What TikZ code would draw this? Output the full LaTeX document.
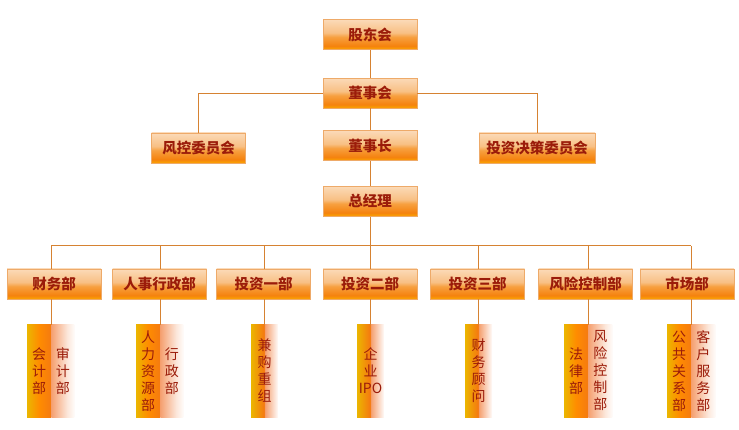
\documentclass[tikz,border=0pt]{standalone}
\usepackage{fontspec}
\setmainfont{Noto Sans CJK SC}
\usetikzlibrary{positioning}

\definecolor{textred}{RGB}{155,28,10}
\definecolor{linecol}{RGB}{214,130,50}
\definecolor{boxline}{RGB}{238,170,105}
\definecolor{boxbot}{RGB}{251,166,0}
\definecolor{boxorange}{RGB}{245,130,14}
\definecolor{boxmid}{RGB}{247,160,64}
\definecolor{boxtop}{RGB}{248,192,132}
\definecolor{boxtoptop}{RGB}{251,218,184}
\definecolor{stripyel}{RGB}{235,182,0}
\definecolor{stripora}{RGB}{245,122,16}
\definecolor{stripsal}{RGB}{245,160,112}
\definecolor{strippale}{RGB}{252,232,220}

% shadings: the part from 25bp to 75bp is what fills the node
\pgfdeclareverticalshading{boxshade}{100bp}{color(0bp)=(boxbot); color(25bp)=(boxbot);
  color(31bp)=(boxorange); color(46bp)=(boxmid); color(53bp)=(boxtop);
  color(75bp)=(boxtoptop); color(100bp)=(boxtoptop)}
\pgfdeclarehorizontalshading{leftshade}{100bp}{color(0bp)=(stripyel); color(25bp)=(stripyel);
  color(50bp)=(orange!90!yellow); color(75bp)=(stripora); color(100bp)=(stripora)}
\pgfdeclarehorizontalshading{rightshade}{100bp}{color(0bp)=(stripsal); color(25bp)=(stripsal);
  color(60bp)=(strippale); color(75bp)=(white!85!strippale); color(100bp)=(white)}
\pgfdeclarehorizontalshading{singleshade}{100bp}{color(0bp)=(stripyel); color(25bp)=(stripyel);
  color(49bp)=(stripora); color(51bp)=(stripsal); color(75bp)=(white!85!strippale); color(100bp)=(white)}

\tikzset{
  box/.style={draw=boxline, line width=0.6pt, shading=boxshade, minimum width=94pt,
    minimum height=30pt, inner sep=0pt, text=textred, font=\bfseries\fontsize{14.5}{14.5}\selectfont},
  strip/.style={minimum height=92pt, minimum width=24pt, inner sep=0pt, align=center,
    text=textred, font=\fontsize{14}{17}\selectfont},
  stripL/.style={strip, shading=leftshade},
  stripR/.style={strip, shading=rightshade},
  stripS/.style={strip, minimum width=27pt, shading=singleshade},
  link/.style={draw=linecol, line width=1pt}
}

\begin{document}
\begin{tikzpicture}[x=1pt, y=-1pt]
    \useasboundingbox (0,0) rectangle (739,430);
    % top of the chart
    \node[box] (gdh) at (370,34.5) {股东会};
    \node[box, below=28pt of gdh] (dsh) {董事会};
    \node[box, below=22pt of dsh] (dsz) {董事长};
    \node[box, below=25pt of dsz] (zjl) {总经理};
    \node[box] (fkw) at (198.5,148) {风控委员会};
    \node[box, minimum width=116pt] (tzw) at (537,148) {投资决策委员会};
    \draw[link] (gdh) -- (dsh);
    \draw[link] (dsh) -- (dsz);
    \draw[link] (dsz) -- (zjl);
    \draw[link] (dsh.west) -| (fkw.north);
    \draw[link] (dsh.east) -| (tzw.north);
    % departments
    \foreach \n/\x/\t in {cwb/54/财务部, rsb/159.5/人事行政部, tz1/263.5/投资一部,
        tz2/370/投资二部, tz3/477.5/投资三部, fxb/585.5/风险控制部, scb/687/市场部}
        \node[box] (\n) at (\x,284) {\t};
    % sub departments
    \node[stripL] (kj) at (39,371) {会\\计\\部};
    \node[stripR, right=0pt of kj, minimum width=23pt] (sj) {审\\计\\部};
    \node[stripL] (rl) at (148,371) {人\\力\\资\\源\\部};
    \node[stripR, right=0pt of rl, minimum width=23pt] (xz) {行\\政\\部};
    \node[stripS] (jg) at (264.5,371) {兼\\购\\重\\组};
    \node[stripS] (qy) at (370.5,371) {企\\业\\IPO};
    \node[stripS] (cg) at (478.5,371) {财\\务\\顾\\问};
    \node[stripL] (fl) at (576,371) {法\\律\\部};
    \node[stripR, right=0pt of fl] (fk) {风\\险\\控\\制\\部};
    \node[stripL] (gg) at (679,371) {公\\共\\关\\系\\部};
    \node[stripR, right=0pt of gg] (kh) {客\\户\\服\\务\\部};
    % connectors
    \coordinate (bus) at (370,246);
    \draw[link] (zjl) -- (bus);
    \draw[link] (bus -| kj.north east) -- (bus -| gg.north east);
    \foreach \d/\p in {cwb/kj.north east, rsb/rl.north east, tz1/jg.north, tz2/qy.north,
        tz3/cg.north, fxb/fl.north east, scb/gg.north east} {
        \draw[link] (bus -| \p) -- (\d.north -| \p);
        \draw[link] (\d.south -| \p) -- (\p);
    }
\end{tikzpicture}
\end{document}
